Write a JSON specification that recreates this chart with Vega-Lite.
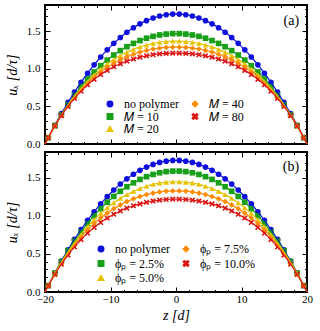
{
"$schema":"https://vega.github.io/schema/vega-lite/v6.json",
"background":"white",
"padding":{"left":4,"top":3,"right":5,"bottom":3},
"spacing":0,
"config":{
 "view":{"stroke":"black","strokeWidth":2},
 "axis":{"grid":false,"domain":false,"labelFont":"Liberation Serif","labelFontSize":11,"labelColor":"black","tickColor":"black","tickWidth":1,"labelFlush":false,"labelPadding":10,"titleFont":"Liberation Serif","titleFontSize":14,"titleFontWeight":"normal","titleFontStyle":"italic","titleColor":"black"}
},
"resolve":{"scale":{"color":"independent","shape":"independent"},"legend":{"color":"independent","shape":"independent"}},
"datasets":{
"a":[
{"s":"no polymer","z":-20,"u":0},{"s":"no polymer","z":-19.5,"u":0.085},{"s":"no polymer","z":-18.5,"u":0.250},{"s":"no polymer","z":-17.5,"u":0.406},{"s":"no polymer","z":-16.5,"u":0.553},{"s":"no polymer","z":-15.5,"u":0.691},{"s":"no polymer","z":-14.5,"u":0.821},{"s":"no polymer","z":-13.5,"u":0.942},{"s":"no polymer","z":-12.5,"u":1.054},{"s":"no polymer","z":-11.5,"u":1.158},{"s":"no polymer","z":-10.5,"u":1.253},{"s":"no polymer","z":-9.5,"u":1.340},{"s":"no polymer","z":-8.5,"u":1.418},{"s":"no polymer","z":-7.5,"u":1.487},{"s":"no polymer","z":-6.5,"u":1.547},{"s":"no polymer","z":-5.5,"u":1.599},{"s":"no polymer","z":-4.5,"u":1.642},{"s":"no polymer","z":-3.5,"u":1.677},{"s":"no polymer","z":-2.5,"u":1.703},{"s":"no polymer","z":-1.5,"u":1.720},{"s":"no polymer","z":-0.5,"u":1.729},
{"s":"no polymer","z":0.5,"u":1.729},{"s":"no polymer","z":1.5,"u":1.720},{"s":"no polymer","z":2.5,"u":1.703},{"s":"no polymer","z":3.5,"u":1.677},{"s":"no polymer","z":4.5,"u":1.642},{"s":"no polymer","z":5.5,"u":1.599},{"s":"no polymer","z":6.5,"u":1.547},{"s":"no polymer","z":7.5,"u":1.487},{"s":"no polymer","z":8.5,"u":1.418},{"s":"no polymer","z":9.5,"u":1.340},{"s":"no polymer","z":10.5,"u":1.253},{"s":"no polymer","z":11.5,"u":1.158},{"s":"no polymer","z":12.5,"u":1.054},{"s":"no polymer","z":13.5,"u":0.942},{"s":"no polymer","z":14.5,"u":0.821},{"s":"no polymer","z":15.5,"u":0.691},{"s":"no polymer","z":16.5,"u":0.553},{"s":"no polymer","z":17.5,"u":0.406},{"s":"no polymer","z":18.5,"u":0.250},{"s":"no polymer","z":19.5,"u":0.085},{"s":"no polymer","z":20,"u":0},
{"s":"𝑀 = 10","z":-20,"u":0},{"s":"𝑀 = 10","z":-19.5,"u":0.085},{"s":"𝑀 = 10","z":-18.5,"u":0.244},{"s":"𝑀 = 10","z":-17.5,"u":0.391},{"s":"𝑀 = 10","z":-16.5,"u":0.526},{"s":"𝑀 = 10","z":-15.5,"u":0.649},{"s":"𝑀 = 10","z":-14.5,"u":0.762},{"s":"𝑀 = 10","z":-13.5,"u":0.865},{"s":"𝑀 = 10","z":-12.5,"u":0.958},{"s":"𝑀 = 10","z":-11.5,"u":1.042},{"s":"𝑀 = 10","z":-10.5,"u":1.117},{"s":"𝑀 = 10","z":-9.5,"u":1.184},{"s":"𝑀 = 10","z":-8.5,"u":1.243},{"s":"𝑀 = 10","z":-7.5,"u":1.295},{"s":"𝑀 = 10","z":-6.5,"u":1.339},{"s":"𝑀 = 10","z":-5.5,"u":1.377},{"s":"𝑀 = 10","z":-4.5,"u":1.408},{"s":"𝑀 = 10","z":-3.5,"u":1.433},{"s":"𝑀 = 10","z":-2.5,"u":1.451},{"s":"𝑀 = 10","z":-1.5,"u":1.463},{"s":"𝑀 = 10","z":-0.5,"u":1.469},
{"s":"𝑀 = 10","z":0.5,"u":1.469},{"s":"𝑀 = 10","z":1.5,"u":1.463},{"s":"𝑀 = 10","z":2.5,"u":1.451},{"s":"𝑀 = 10","z":3.5,"u":1.433},{"s":"𝑀 = 10","z":4.5,"u":1.408},{"s":"𝑀 = 10","z":5.5,"u":1.377},{"s":"𝑀 = 10","z":6.5,"u":1.339},{"s":"𝑀 = 10","z":7.5,"u":1.295},{"s":"𝑀 = 10","z":8.5,"u":1.243},{"s":"𝑀 = 10","z":9.5,"u":1.184},{"s":"𝑀 = 10","z":10.5,"u":1.117},{"s":"𝑀 = 10","z":11.5,"u":1.042},{"s":"𝑀 = 10","z":12.5,"u":0.958},{"s":"𝑀 = 10","z":13.5,"u":0.865},{"s":"𝑀 = 10","z":14.5,"u":0.762},{"s":"𝑀 = 10","z":15.5,"u":0.649},{"s":"𝑀 = 10","z":16.5,"u":0.526},{"s":"𝑀 = 10","z":17.5,"u":0.391},{"s":"𝑀 = 10","z":18.5,"u":0.244},{"s":"𝑀 = 10","z":19.5,"u":0.085},{"s":"𝑀 = 10","z":20,"u":0},
{"s":"𝑀 = 20","z":-20,"u":0},{"s":"𝑀 = 20","z":-19.5,"u":0.085},{"s":"𝑀 = 20","z":-18.5,"u":0.242},{"s":"𝑀 = 20","z":-17.5,"u":0.386},{"s":"𝑀 = 20","z":-16.5,"u":0.516},{"s":"𝑀 = 20","z":-15.5,"u":0.634},{"s":"𝑀 = 20","z":-14.5,"u":0.740},{"s":"𝑀 = 20","z":-13.5,"u":0.835},{"s":"𝑀 = 20","z":-12.5,"u":0.921},{"s":"𝑀 = 20","z":-11.5,"u":0.997},{"s":"𝑀 = 20","z":-10.5,"u":1.064},{"s":"𝑀 = 20","z":-9.5,"u":1.124},{"s":"𝑀 = 20","z":-8.5,"u":1.176},{"s":"𝑀 = 20","z":-7.5,"u":1.221},{"s":"𝑀 = 20","z":-6.5,"u":1.259},{"s":"𝑀 = 20","z":-5.5,"u":1.292},{"s":"𝑀 = 20","z":-4.5,"u":1.318},{"s":"𝑀 = 20","z":-3.5,"u":1.339},{"s":"𝑀 = 20","z":-2.5,"u":1.354},{"s":"𝑀 = 20","z":-1.5,"u":1.364},{"s":"𝑀 = 20","z":-0.5,"u":1.369},
{"s":"𝑀 = 20","z":0.5,"u":1.369},{"s":"𝑀 = 20","z":1.5,"u":1.364},{"s":"𝑀 = 20","z":2.5,"u":1.354},{"s":"𝑀 = 20","z":3.5,"u":1.339},{"s":"𝑀 = 20","z":4.5,"u":1.318},{"s":"𝑀 = 20","z":5.5,"u":1.292},{"s":"𝑀 = 20","z":6.5,"u":1.259},{"s":"𝑀 = 20","z":7.5,"u":1.221},{"s":"𝑀 = 20","z":8.5,"u":1.176},{"s":"𝑀 = 20","z":9.5,"u":1.124},{"s":"𝑀 = 20","z":10.5,"u":1.064},{"s":"𝑀 = 20","z":11.5,"u":0.997},{"s":"𝑀 = 20","z":12.5,"u":0.921},{"s":"𝑀 = 20","z":13.5,"u":0.835},{"s":"𝑀 = 20","z":14.5,"u":0.740},{"s":"𝑀 = 20","z":15.5,"u":0.634},{"s":"𝑀 = 20","z":16.5,"u":0.516},{"s":"𝑀 = 20","z":17.5,"u":0.386},{"s":"𝑀 = 20","z":18.5,"u":0.242},{"s":"𝑀 = 20","z":19.5,"u":0.085},{"s":"𝑀 = 20","z":20,"u":0},
{"s":"𝑀 = 40","z":-20,"u":0},{"s":"𝑀 = 40","z":-19.5,"u":0.084},{"s":"𝑀 = 40","z":-18.5,"u":0.241},{"s":"𝑀 = 40","z":-17.5,"u":0.381},{"s":"𝑀 = 40","z":-16.5,"u":0.508},{"s":"𝑀 = 40","z":-15.5,"u":0.621},{"s":"𝑀 = 40","z":-14.5,"u":0.722},{"s":"𝑀 = 40","z":-13.5,"u":0.811},{"s":"𝑀 = 40","z":-12.5,"u":0.891},{"s":"𝑀 = 40","z":-11.5,"u":0.961},{"s":"𝑀 = 40","z":-10.5,"u":1.022},{"s":"𝑀 = 40","z":-9.5,"u":1.076},{"s":"𝑀 = 40","z":-8.5,"u":1.122},{"s":"𝑀 = 40","z":-7.5,"u":1.162},{"s":"𝑀 = 40","z":-6.5,"u":1.195},{"s":"𝑀 = 40","z":-5.5,"u":1.223},{"s":"𝑀 = 40","z":-4.5,"u":1.246},{"s":"𝑀 = 40","z":-3.5,"u":1.264},{"s":"𝑀 = 40","z":-2.5,"u":1.277},{"s":"𝑀 = 40","z":-1.5,"u":1.285},{"s":"𝑀 = 40","z":-0.5,"u":1.289},
{"s":"𝑀 = 40","z":0.5,"u":1.289},{"s":"𝑀 = 40","z":1.5,"u":1.285},{"s":"𝑀 = 40","z":2.5,"u":1.277},{"s":"𝑀 = 40","z":3.5,"u":1.264},{"s":"𝑀 = 40","z":4.5,"u":1.246},{"s":"𝑀 = 40","z":5.5,"u":1.223},{"s":"𝑀 = 40","z":6.5,"u":1.195},{"s":"𝑀 = 40","z":7.5,"u":1.162},{"s":"𝑀 = 40","z":8.5,"u":1.122},{"s":"𝑀 = 40","z":9.5,"u":1.076},{"s":"𝑀 = 40","z":10.5,"u":1.022},{"s":"𝑀 = 40","z":11.5,"u":0.961},{"s":"𝑀 = 40","z":12.5,"u":0.891},{"s":"𝑀 = 40","z":13.5,"u":0.811},{"s":"𝑀 = 40","z":14.5,"u":0.722},{"s":"𝑀 = 40","z":15.5,"u":0.621},{"s":"𝑀 = 40","z":16.5,"u":0.508},{"s":"𝑀 = 40","z":17.5,"u":0.381},{"s":"𝑀 = 40","z":18.5,"u":0.241},{"s":"𝑀 = 40","z":19.5,"u":0.084},{"s":"𝑀 = 40","z":20,"u":0},
{"s":"𝑀 = 80","z":-20,"u":0},{"s":"𝑀 = 80","z":-19.5,"u":0.084},{"s":"𝑀 = 80","z":-18.5,"u":0.239},{"s":"𝑀 = 80","z":-17.5,"u":0.377},{"s":"𝑀 = 80","z":-16.5,"u":0.499},{"s":"𝑀 = 80","z":-15.5,"u":0.608},{"s":"𝑀 = 80","z":-14.5,"u":0.704},{"s":"𝑀 = 80","z":-13.5,"u":0.788},{"s":"𝑀 = 80","z":-12.5,"u":0.861},{"s":"𝑀 = 80","z":-11.5,"u":0.925},{"s":"𝑀 = 80","z":-10.5,"u":0.980},{"s":"𝑀 = 80","z":-9.5,"u":1.028},{"s":"𝑀 = 80","z":-8.5,"u":1.068},{"s":"𝑀 = 80","z":-7.5,"u":1.103},{"s":"𝑀 = 80","z":-6.5,"u":1.131},{"s":"𝑀 = 80","z":-5.5,"u":1.155},{"s":"𝑀 = 80","z":-4.5,"u":1.174},{"s":"𝑀 = 80","z":-3.5,"u":1.188},{"s":"𝑀 = 80","z":-2.5,"u":1.199},{"s":"𝑀 = 80","z":-1.5,"u":1.206},{"s":"𝑀 = 80","z":-0.5,"u":1.210},
{"s":"𝑀 = 80","z":0.5,"u":1.210},{"s":"𝑀 = 80","z":1.5,"u":1.206},{"s":"𝑀 = 80","z":2.5,"u":1.199},{"s":"𝑀 = 80","z":3.5,"u":1.188},{"s":"𝑀 = 80","z":4.5,"u":1.174},{"s":"𝑀 = 80","z":5.5,"u":1.155},{"s":"𝑀 = 80","z":6.5,"u":1.131},{"s":"𝑀 = 80","z":7.5,"u":1.103},{"s":"𝑀 = 80","z":8.5,"u":1.068},{"s":"𝑀 = 80","z":9.5,"u":1.028},{"s":"𝑀 = 80","z":10.5,"u":0.980},{"s":"𝑀 = 80","z":11.5,"u":0.925},{"s":"𝑀 = 80","z":12.5,"u":0.861},{"s":"𝑀 = 80","z":13.5,"u":0.788},{"s":"𝑀 = 80","z":14.5,"u":0.704},{"s":"𝑀 = 80","z":15.5,"u":0.608},{"s":"𝑀 = 80","z":16.5,"u":0.499},{"s":"𝑀 = 80","z":17.5,"u":0.377},{"s":"𝑀 = 80","z":18.5,"u":0.239},{"s":"𝑀 = 80","z":19.5,"u":0.084},{"s":"𝑀 = 80","z":20,"u":0}
],
"b":[
{"s":"no polymer","z":-20,"u":0},{"s":"no polymer","z":-19.5,"u":0.085},{"s":"no polymer","z":-18.5,"u":0.250},{"s":"no polymer","z":-17.5,"u":0.406},{"s":"no polymer","z":-16.5,"u":0.553},{"s":"no polymer","z":-15.5,"u":0.691},{"s":"no polymer","z":-14.5,"u":0.821},{"s":"no polymer","z":-13.5,"u":0.942},{"s":"no polymer","z":-12.5,"u":1.054},{"s":"no polymer","z":-11.5,"u":1.158},{"s":"no polymer","z":-10.5,"u":1.253},{"s":"no polymer","z":-9.5,"u":1.340},{"s":"no polymer","z":-8.5,"u":1.418},{"s":"no polymer","z":-7.5,"u":1.487},{"s":"no polymer","z":-6.5,"u":1.547},{"s":"no polymer","z":-5.5,"u":1.599},{"s":"no polymer","z":-4.5,"u":1.642},{"s":"no polymer","z":-3.5,"u":1.677},{"s":"no polymer","z":-2.5,"u":1.703},{"s":"no polymer","z":-1.5,"u":1.720},{"s":"no polymer","z":-0.5,"u":1.729},
{"s":"no polymer","z":0.5,"u":1.729},{"s":"no polymer","z":1.5,"u":1.720},{"s":"no polymer","z":2.5,"u":1.703},{"s":"no polymer","z":3.5,"u":1.677},{"s":"no polymer","z":4.5,"u":1.642},{"s":"no polymer","z":5.5,"u":1.599},{"s":"no polymer","z":6.5,"u":1.547},{"s":"no polymer","z":7.5,"u":1.487},{"s":"no polymer","z":8.5,"u":1.418},{"s":"no polymer","z":9.5,"u":1.340},{"s":"no polymer","z":10.5,"u":1.253},{"s":"no polymer","z":11.5,"u":1.158},{"s":"no polymer","z":12.5,"u":1.054},{"s":"no polymer","z":13.5,"u":0.942},{"s":"no polymer","z":14.5,"u":0.821},{"s":"no polymer","z":15.5,"u":0.691},{"s":"no polymer","z":16.5,"u":0.553},{"s":"no polymer","z":17.5,"u":0.406},{"s":"no polymer","z":18.5,"u":0.250},{"s":"no polymer","z":19.5,"u":0.085},{"s":"no polymer","z":20,"u":0},
{"s":"ϕₚ = 2.5%","z":-20,"u":0},{"s":"ϕₚ = 2.5%","z":-19.5,"u":0.085},{"s":"ϕₚ = 2.5%","z":-18.5,"u":0.247},{"s":"ϕₚ = 2.5%","z":-17.5,"u":0.398},{"s":"ϕₚ = 2.5%","z":-16.5,"u":0.538},{"s":"ϕₚ = 2.5%","z":-15.5,"u":0.669},{"s":"ϕₚ = 2.5%","z":-14.5,"u":0.789},{"s":"ϕₚ = 2.5%","z":-13.5,"u":0.900},{"s":"ϕₚ = 2.5%","z":-12.5,"u":1.002},{"s":"ϕₚ = 2.5%","z":-11.5,"u":1.095},{"s":"ϕₚ = 2.5%","z":-10.5,"u":1.180},{"s":"ϕₚ = 2.5%","z":-9.5,"u":1.256},{"s":"ϕₚ = 2.5%","z":-8.5,"u":1.324},{"s":"ϕₚ = 2.5%","z":-7.5,"u":1.383},{"s":"ϕₚ = 2.5%","z":-6.5,"u":1.435},{"s":"ϕₚ = 2.5%","z":-5.5,"u":1.480},{"s":"ϕₚ = 2.5%","z":-4.5,"u":1.516},{"s":"ϕₚ = 2.5%","z":-3.5,"u":1.545},{"s":"ϕₚ = 2.5%","z":-2.5,"u":1.567},{"s":"ϕₚ = 2.5%","z":-1.5,"u":1.582},{"s":"ϕₚ = 2.5%","z":-0.5,"u":1.589},
{"s":"ϕₚ = 2.5%","z":0.5,"u":1.589},{"s":"ϕₚ = 2.5%","z":1.5,"u":1.582},{"s":"ϕₚ = 2.5%","z":2.5,"u":1.567},{"s":"ϕₚ = 2.5%","z":3.5,"u":1.545},{"s":"ϕₚ = 2.5%","z":4.5,"u":1.516},{"s":"ϕₚ = 2.5%","z":5.5,"u":1.480},{"s":"ϕₚ = 2.5%","z":6.5,"u":1.435},{"s":"ϕₚ = 2.5%","z":7.5,"u":1.383},{"s":"ϕₚ = 2.5%","z":8.5,"u":1.324},{"s":"ϕₚ = 2.5%","z":9.5,"u":1.256},{"s":"ϕₚ = 2.5%","z":10.5,"u":1.180},{"s":"ϕₚ = 2.5%","z":11.5,"u":1.095},{"s":"ϕₚ = 2.5%","z":12.5,"u":1.002},{"s":"ϕₚ = 2.5%","z":13.5,"u":0.900},{"s":"ϕₚ = 2.5%","z":14.5,"u":0.789},{"s":"ϕₚ = 2.5%","z":15.5,"u":0.669},{"s":"ϕₚ = 2.5%","z":16.5,"u":0.538},{"s":"ϕₚ = 2.5%","z":17.5,"u":0.398},{"s":"ϕₚ = 2.5%","z":18.5,"u":0.247},{"s":"ϕₚ = 2.5%","z":19.5,"u":0.085},{"s":"ϕₚ = 2.5%","z":20,"u":0},
{"s":"ϕₚ = 5.0%","z":-20,"u":0},{"s":"ϕₚ = 5.0%","z":-19.5,"u":0.085},{"s":"ϕₚ = 5.0%","z":-18.5,"u":0.244},{"s":"ϕₚ = 5.0%","z":-17.5,"u":0.390},{"s":"ϕₚ = 5.0%","z":-16.5,"u":0.524},{"s":"ϕₚ = 5.0%","z":-15.5,"u":0.646},{"s":"ϕₚ = 5.0%","z":-14.5,"u":0.758},{"s":"ϕₚ = 5.0%","z":-13.5,"u":0.859},{"s":"ϕₚ = 5.0%","z":-12.5,"u":0.950},{"s":"ϕₚ = 5.0%","z":-11.5,"u":1.033},{"s":"ϕₚ = 5.0%","z":-10.5,"u":1.106},{"s":"ϕₚ = 5.0%","z":-9.5,"u":1.172},{"s":"ϕₚ = 5.0%","z":-8.5,"u":1.230},{"s":"ϕₚ = 5.0%","z":-7.5,"u":1.280},{"s":"ϕₚ = 5.0%","z":-6.5,"u":1.323},{"s":"ϕₚ = 5.0%","z":-5.5,"u":1.360},{"s":"ϕₚ = 5.0%","z":-4.5,"u":1.390},{"s":"ϕₚ = 5.0%","z":-3.5,"u":1.414},{"s":"ϕₚ = 5.0%","z":-2.5,"u":1.432},{"s":"ϕₚ = 5.0%","z":-1.5,"u":1.443},{"s":"ϕₚ = 5.0%","z":-0.5,"u":1.449},
{"s":"ϕₚ = 5.0%","z":0.5,"u":1.449},{"s":"ϕₚ = 5.0%","z":1.5,"u":1.443},{"s":"ϕₚ = 5.0%","z":2.5,"u":1.432},{"s":"ϕₚ = 5.0%","z":3.5,"u":1.414},{"s":"ϕₚ = 5.0%","z":4.5,"u":1.390},{"s":"ϕₚ = 5.0%","z":5.5,"u":1.360},{"s":"ϕₚ = 5.0%","z":6.5,"u":1.323},{"s":"ϕₚ = 5.0%","z":7.5,"u":1.280},{"s":"ϕₚ = 5.0%","z":8.5,"u":1.230},{"s":"ϕₚ = 5.0%","z":9.5,"u":1.172},{"s":"ϕₚ = 5.0%","z":10.5,"u":1.106},{"s":"ϕₚ = 5.0%","z":11.5,"u":1.033},{"s":"ϕₚ = 5.0%","z":12.5,"u":0.950},{"s":"ϕₚ = 5.0%","z":13.5,"u":0.859},{"s":"ϕₚ = 5.0%","z":14.5,"u":0.758},{"s":"ϕₚ = 5.0%","z":15.5,"u":0.646},{"s":"ϕₚ = 5.0%","z":16.5,"u":0.524},{"s":"ϕₚ = 5.0%","z":17.5,"u":0.390},{"s":"ϕₚ = 5.0%","z":18.5,"u":0.244},{"s":"ϕₚ = 5.0%","z":19.5,"u":0.085},{"s":"ϕₚ = 5.0%","z":20,"u":0},
{"s":"ϕₚ = 7.5%","z":-20,"u":0},{"s":"ϕₚ = 7.5%","z":-19.5,"u":0.083},{"s":"ϕₚ = 7.5%","z":-18.5,"u":0.238},{"s":"ϕₚ = 7.5%","z":-17.5,"u":0.378},{"s":"ϕₚ = 7.5%","z":-16.5,"u":0.505},{"s":"ϕₚ = 7.5%","z":-15.5,"u":0.620},{"s":"ϕₚ = 7.5%","z":-14.5,"u":0.723},{"s":"ϕₚ = 7.5%","z":-13.5,"u":0.816},{"s":"ϕₚ = 7.5%","z":-12.5,"u":0.899},{"s":"ϕₚ = 7.5%","z":-11.5,"u":0.972},{"s":"ϕₚ = 7.5%","z":-10.5,"u":1.037},{"s":"ϕₚ = 7.5%","z":-9.5,"u":1.095},{"s":"ϕₚ = 7.5%","z":-8.5,"u":1.145},{"s":"ϕₚ = 7.5%","z":-7.5,"u":1.188},{"s":"ϕₚ = 7.5%","z":-6.5,"u":1.224},{"s":"ϕₚ = 7.5%","z":-5.5,"u":1.255},{"s":"ϕₚ = 7.5%","z":-4.5,"u":1.280},{"s":"ϕₚ = 7.5%","z":-3.5,"u":1.300},{"s":"ϕₚ = 7.5%","z":-2.5,"u":1.315},{"s":"ϕₚ = 7.5%","z":-1.5,"u":1.325},{"s":"ϕₚ = 7.5%","z":-0.5,"u":1.329},
{"s":"ϕₚ = 7.5%","z":0.5,"u":1.329},{"s":"ϕₚ = 7.5%","z":1.5,"u":1.325},{"s":"ϕₚ = 7.5%","z":2.5,"u":1.315},{"s":"ϕₚ = 7.5%","z":3.5,"u":1.300},{"s":"ϕₚ = 7.5%","z":4.5,"u":1.280},{"s":"ϕₚ = 7.5%","z":5.5,"u":1.255},{"s":"ϕₚ = 7.5%","z":6.5,"u":1.224},{"s":"ϕₚ = 7.5%","z":7.5,"u":1.188},{"s":"ϕₚ = 7.5%","z":8.5,"u":1.145},{"s":"ϕₚ = 7.5%","z":9.5,"u":1.095},{"s":"ϕₚ = 7.5%","z":10.5,"u":1.037},{"s":"ϕₚ = 7.5%","z":11.5,"u":0.972},{"s":"ϕₚ = 7.5%","z":12.5,"u":0.899},{"s":"ϕₚ = 7.5%","z":13.5,"u":0.816},{"s":"ϕₚ = 7.5%","z":14.5,"u":0.723},{"s":"ϕₚ = 7.5%","z":15.5,"u":0.620},{"s":"ϕₚ = 7.5%","z":16.5,"u":0.505},{"s":"ϕₚ = 7.5%","z":17.5,"u":0.378},{"s":"ϕₚ = 7.5%","z":18.5,"u":0.238},{"s":"ϕₚ = 7.5%","z":19.5,"u":0.083},{"s":"ϕₚ = 7.5%","z":20,"u":0},
{"s":"ϕₚ = 10.0%","z":-20,"u":0},{"s":"ϕₚ = 10.0%","z":-19.5,"u":0.081},{"s":"ϕₚ = 10.0%","z":-18.5,"u":0.230},{"s":"ϕₚ = 10.0%","z":-17.5,"u":0.365},{"s":"ϕₚ = 10.0%","z":-16.5,"u":0.485},{"s":"ϕₚ = 10.0%","z":-15.5,"u":0.593},{"s":"ϕₚ = 10.0%","z":-14.5,"u":0.688},{"s":"ϕₚ = 10.0%","z":-13.5,"u":0.773},{"s":"ϕₚ = 10.0%","z":-12.5,"u":0.848},{"s":"ϕₚ = 10.0%","z":-11.5,"u":0.914},{"s":"ϕₚ = 10.0%","z":-10.5,"u":0.972},{"s":"ϕₚ = 10.0%","z":-9.5,"u":1.022},{"s":"ϕₚ = 10.0%","z":-8.5,"u":1.065},{"s":"ϕₚ = 10.0%","z":-7.5,"u":1.102},{"s":"ϕₚ = 10.0%","z":-6.5,"u":1.133},{"s":"ϕₚ = 10.0%","z":-5.5,"u":1.158},{"s":"ϕₚ = 10.0%","z":-4.5,"u":1.179},{"s":"ϕₚ = 10.0%","z":-3.5,"u":1.196},{"s":"ϕₚ = 10.0%","z":-2.5,"u":1.208},{"s":"ϕₚ = 10.0%","z":-1.5,"u":1.216},{"s":"ϕₚ = 10.0%","z":-0.5,"u":1.220},
{"s":"ϕₚ = 10.0%","z":0.5,"u":1.220},{"s":"ϕₚ = 10.0%","z":1.5,"u":1.216},{"s":"ϕₚ = 10.0%","z":2.5,"u":1.208},{"s":"ϕₚ = 10.0%","z":3.5,"u":1.196},{"s":"ϕₚ = 10.0%","z":4.5,"u":1.179},{"s":"ϕₚ = 10.0%","z":5.5,"u":1.158},{"s":"ϕₚ = 10.0%","z":6.5,"u":1.133},{"s":"ϕₚ = 10.0%","z":7.5,"u":1.102},{"s":"ϕₚ = 10.0%","z":8.5,"u":1.065},{"s":"ϕₚ = 10.0%","z":9.5,"u":1.022},{"s":"ϕₚ = 10.0%","z":10.5,"u":0.972},{"s":"ϕₚ = 10.0%","z":11.5,"u":0.914},{"s":"ϕₚ = 10.0%","z":12.5,"u":0.848},{"s":"ϕₚ = 10.0%","z":13.5,"u":0.773},{"s":"ϕₚ = 10.0%","z":14.5,"u":0.688},{"s":"ϕₚ = 10.0%","z":15.5,"u":0.593},{"s":"ϕₚ = 10.0%","z":16.5,"u":0.485},{"s":"ϕₚ = 10.0%","z":17.5,"u":0.365},{"s":"ϕₚ = 10.0%","z":18.5,"u":0.230},{"s":"ϕₚ = 10.0%","z":19.5,"u":0.081},{"s":"ϕₚ = 10.0%","z":20,"u":0}
]
},
"vconcat":[
{
"width":262,"height":139,
"data":{"name":"a"},
"resolve":{"axis":{"x":"independent","y":"independent"}},
"layer":[
{"transform":[{"filter":"abs(datum.z) < 20"}],
 "mark":{"type":"point","filled":true,"size":32,"opacity":1},
 "encoding":{
  "x":{"field":"z","type":"quantitative","scale":{"domain":[-20,20],"nice":false,"zero":false},"axis":{"orient":"top","values":[-20,-10,0,10,20],"labels":false,"tickSize":-5,"title":null}},
  "y":{"field":"u","type":"quantitative","scale":{"domain":[0,1.85],"nice":false,"zero":false},"axis":{"orient":"right","values":[0,0.5,1,1.5],"labels":false,"tickSize":-5,"title":null}},
  "color":{"field":"s","type":"nominal","scale":{"domain":["no polymer","𝑀 = 10","𝑀 = 20","𝑀 = 40","𝑀 = 80"],"range":["#1010dd","#19a019","#e6c200","#ff8c00","#dc1414"]},"legend":{"title":null,"orient":"none","legendX":59,"legendY":93,"columns":2,"padding":0,"symbolSize":30,"labelOffset":8,"columnPadding":10,"rowPadding":0.5,"labelFont":"Liberation Serif","labelFontSize":12,"labelColor":"black","encode":{"labels":{"update":{"font":{"signal":"datum.label == 'no polymer' ? 'DejaVu Sans' : 'Liberation Serif'"},"fontSize":{"signal":"datum.label == 'no polymer' ? 10 : 12"}}}}}},
  "shape":{"field":"s","type":"nominal","scale":{"domain":["no polymer","𝑀 = 10","𝑀 = 20","𝑀 = 40","𝑀 = 80"],"range":["circle","square","triangle-up","diamond","M-1,-0.6L-0.6,-1L0,-0.4L0.6,-1L1,-0.6L0.4,0L1,0.6L0.6,1L0,0.4L-0.6,1L-1,0.6L-0.4,0Z"]},"legend":{"title":null,"orient":"none","legendX":59,"legendY":93,"columns":2,"padding":0,"symbolSize":30,"labelOffset":8,"columnPadding":10,"rowPadding":0.5,"labelFont":"Liberation Serif","labelFontSize":12,"labelColor":"black","encode":{"labels":{"update":{"font":{"signal":"datum.label == 'no polymer' ? 'DejaVu Sans' : 'Liberation Serif'"},"fontSize":{"signal":"datum.label == 'no polymer' ? 10 : 12"}}}}}}
 }},
{"mark":{"type":"line","strokeWidth":1.2,"interpolate":"monotone"},
 "encoding":{
  "x":{"field":"z","type":"quantitative","axis":{"orient":"bottom","values":[-20,-10,0,10,20],"labels":false,"tickSize":-5,"title":null}},
  "y":{"field":"u","type":"quantitative","axis":{"orient":"left","values":[0,0.5,1,1.5],"format":".1f","tickSize":-5,"title":"uₓ [d/τ]","titlePadding":7}},
  "color":{"field":"s","type":"nominal"}
 }},
{"mark":{"type":"point","opacity":0},
 "encoding":{
  "x":{"field":"z","type":"quantitative","axis":{"orient":"bottom","values":[-20,-18,-16,-14,-12,-10,-8,-6,-4,-2,0,2,4,6,8,10,12,14,16,18,20],"labels":false,"tickSize":-2.5,"title":null}},
  "y":{"field":"u","type":"quantitative","axis":{"orient":"left","values":[0,0.1,0.2,0.3,0.4,0.5,0.6,0.7,0.8,0.9,1,1.1,1.2,1.3,1.4,1.5,1.6,1.7,1.8],"labels":false,"tickSize":-2.5,"title":null}}
 }},
{"mark":{"type":"point","opacity":0},
 "encoding":{
  "x":{"field":"z","type":"quantitative","axis":{"orient":"top","values":[-20,-18,-16,-14,-12,-10,-8,-6,-4,-2,0,2,4,6,8,10,12,14,16,18,20],"labels":false,"tickSize":-2.5,"title":null}},
  "y":{"field":"u","type":"quantitative","axis":{"orient":"right","values":[0,0.1,0.2,0.3,0.4,0.5,0.6,0.7,0.8,0.9,1,1.1,1.2,1.3,1.4,1.5,1.6,1.7,1.8],"labels":false,"tickSize":-2.5,"title":null}}
 }},
{"data":{"values":[{"t":"(a)"}]},
 "mark":{"type":"text","align":"right","baseline":"middle","font":"Liberation Serif","fontSize":14,"color":"black"},
 "encoding":{
  "x":{"datum":18.8,"type":"quantitative","axis":null},
  "y":{"datum":1.636,"type":"quantitative","axis":null},
  "text":{"field":"t"}
 }}
]
},
{
"width":262,"height":140,
"data":{"name":"b"},
"resolve":{"axis":{"x":"independent","y":"independent"}},
"layer":[
{"transform":[{"filter":"abs(datum.z) < 20"}],
 "mark":{"type":"point","filled":true,"size":32,"opacity":1},
 "encoding":{
  "x":{"field":"z","type":"quantitative","scale":{"domain":[-20,20],"nice":false,"zero":false},"axis":{"orient":"top","values":[-20,-10,0,10,20],"labels":false,"tickSize":-5,"title":null}},
  "y":{"field":"u","type":"quantitative","scale":{"domain":[0,1.84],"nice":false,"zero":false},"axis":{"orient":"right","values":[0,0.5,1,1.5],"labels":false,"tickSize":-5,"title":null}},
  "color":{"field":"s","type":"nominal","scale":{"domain":["no polymer","ϕₚ = 2.5%","ϕₚ = 5.0%","ϕₚ = 7.5%","ϕₚ = 10.0%"],"range":["#1010dd","#19a019","#e6c200","#ff8c00","#dc1414"]},"legend":{"title":null,"orient":"none","legendX":50,"legendY":91,"columns":2,"padding":0,"symbolSize":30,"labelOffset":8,"columnPadding":10,"rowPadding":2.5,"labelFont":"Liberation Serif","labelFontSize":12,"labelColor":"black","encode":{"labels":{"update":{"font":{"signal":"datum.label == 'no polymer' ? 'DejaVu Sans' : 'Liberation Serif'"},"fontSize":{"signal":"datum.label == 'no polymer' ? 10 : 12"}}}}}},
  "shape":{"field":"s","type":"nominal","scale":{"domain":["no polymer","ϕₚ = 2.5%","ϕₚ = 5.0%","ϕₚ = 7.5%","ϕₚ = 10.0%"],"range":["circle","square","triangle-up","diamond","M-1,-0.6L-0.6,-1L0,-0.4L0.6,-1L1,-0.6L0.4,0L1,0.6L0.6,1L0,0.4L-0.6,1L-1,0.6L-0.4,0Z"]},"legend":{"title":null,"orient":"none","legendX":50,"legendY":91,"columns":2,"padding":0,"symbolSize":30,"labelOffset":8,"columnPadding":10,"rowPadding":2.5,"labelFont":"Liberation Serif","labelFontSize":12,"labelColor":"black","encode":{"labels":{"update":{"font":{"signal":"datum.label == 'no polymer' ? 'DejaVu Sans' : 'Liberation Serif'"},"fontSize":{"signal":"datum.label == 'no polymer' ? 10 : 12"}}}}}}
 }},
{"mark":{"type":"line","strokeWidth":1.2,"interpolate":"monotone"},
 "encoding":{
  "x":{"field":"z","type":"quantitative","axis":{"orient":"bottom","values":[-20,-10,0,10,20],"tickSize":-5,"labelPadding":6,"title":"z [d]","titlePadding":4}},
  "y":{"field":"u","type":"quantitative","axis":{"orient":"left","values":[0,0.5,1,1.5],"format":".1f","tickSize":-5,"title":"uₓ [d/τ]","titlePadding":7}},
  "color":{"field":"s","type":"nominal"}
 }},
{"mark":{"type":"point","opacity":0},
 "encoding":{
  "x":{"field":"z","type":"quantitative","axis":{"orient":"bottom","values":[-20,-18,-16,-14,-12,-10,-8,-6,-4,-2,0,2,4,6,8,10,12,14,16,18,20],"labels":false,"tickSize":-2.5,"title":null}},
  "y":{"field":"u","type":"quantitative","axis":{"orient":"left","values":[0,0.1,0.2,0.3,0.4,0.5,0.6,0.7,0.8,0.9,1,1.1,1.2,1.3,1.4,1.5,1.6,1.7,1.8],"labels":false,"tickSize":-2.5,"title":null}}
 }},
{"mark":{"type":"point","opacity":0},
 "encoding":{
  "x":{"field":"z","type":"quantitative","axis":{"orient":"top","values":[-20,-18,-16,-14,-12,-10,-8,-6,-4,-2,0,2,4,6,8,10,12,14,16,18,20],"labels":false,"tickSize":-2.5,"title":null}},
  "y":{"field":"u","type":"quantitative","axis":{"orient":"right","values":[0,0.1,0.2,0.3,0.4,0.5,0.6,0.7,0.8,0.9,1,1.1,1.2,1.3,1.4,1.5,1.6,1.7,1.8],"labels":false,"tickSize":-2.5,"title":null}}
 }},
{"data":{"values":[{"t":"(b)"}]},
 "mark":{"type":"text","align":"right","baseline":"middle","font":"Liberation Serif","fontSize":14,"color":"black"},
 "encoding":{
  "x":{"datum":18.8,"type":"quantitative","axis":null},
  "y":{"datum":1.643,"type":"quantitative","axis":null},
  "text":{"field":"t"}
 }}
]
}
]
}
